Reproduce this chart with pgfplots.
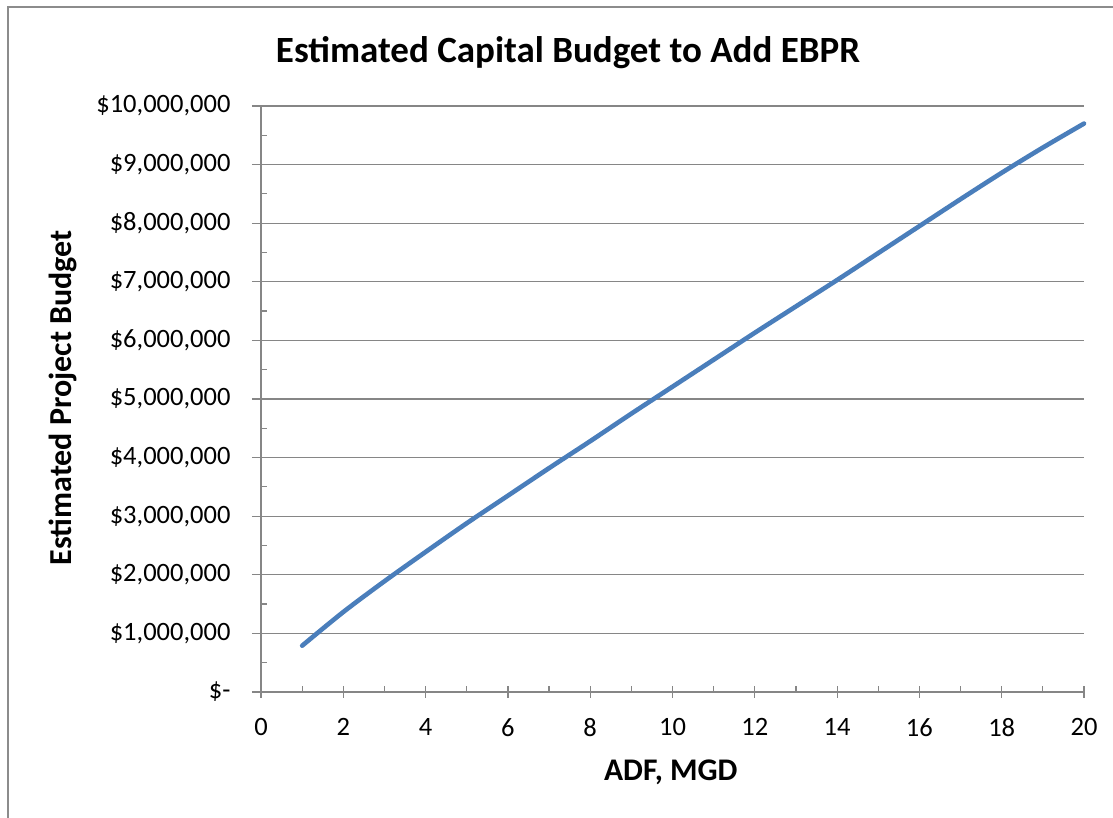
\documentclass[border=0pt]{standalone}
\usepackage{fontspec}
\setmainfont{Carlito}
\usepackage{pgfplots}
\pgfplotsset{compat=1.18}
\definecolor{axgray}{RGB}{134,134,134}
\definecolor{framegray}{RGB}{140,140,140}
\definecolor{excelblue}{RGB}{74,126,187}
\pgfplotstableread{
x y
1 790000
2 1365000
3 1890000
4 2390000
5 2880000
6 3350000
7 3820000
8 4280000
9 4750000
10 5210000
11 5670000
12 6130000
13 6580000
14 7030000
15 7490000
16 7950000
17 8410000
18 8860000
19 9290000
20 9700000
}\budget
\begin{document}
\begin{tikzpicture}[x=1pt,y=1pt]
\path[use as bounding box] (0,0) rectangle (1113,818);
\draw[color=framegray, line width=2.5pt] (8,-5) -- (8,811) -- (1120,811);
\begin{axis}[
  at={(261pt,126pt)}, anchor=south west, scale only axis,
  width=823pt, height=586pt,
  xmin=0, xmax=20, ymin=0, ymax=10000000,
  axis x line*=bottom, axis y line*=left,
  axis line style={axgray, line width=1.3pt},
  xtick={0,2,...,20},
  xticklabels={0,2,4,6,8,10,12,14,16,18,20},
  ytick={0,1000000,2000000,3000000,4000000,5000000,6000000,7000000,8000000,9000000,10000000},
  yticklabels={\$-,{\$1,000,000},{\$2,000,000},{\$3,000,000},{\$4,000,000},{\$5,000,000},{\$6,000,000},{\$7,000,000},{\$8,000,000},{\$9,000,000},{\$10,000,000}},
  scaled y ticks=false, scaled x ticks=false,
  minor x tick num=1, minor y tick num=1,
  tick align=center,
  major tick length=12pt, minor tick length=6pt,
  tick style={axgray, line width=1.2pt},
  minor x tick style={yshift=3pt},
  minor y tick style={xshift=3pt},
  major y tick style={xshift=-3pt},
  ymajorgrids,
  major grid style={axgray, line width=1.2pt},
  /pgf/number format/assume math mode=true,
  ticklabel style={font=\fontsize{26.5}{30}\selectfont, text=black},
  yticklabel style={anchor=east, xshift=-21pt},
  xticklabel style={anchor=north, yshift=-17pt},
  title={Estimated Capital Budget to Add EBPR},
  title style={font=\fontsize{37}{42}\selectfont\bfseries, at={(rel axis cs:0.373,1.080)}, anchor=center},
  xlabel={ADF, MGD},
  xlabel style={font=\fontsize{31.5}{36}\selectfont\bfseries, at={(rel axis cs:0.498,-0.1365)}, anchor=center},
  ylabel={Estimated Project Budget},
  ylabel style={font=\fontsize{32}{36}\selectfont\bfseries, at={(rel axis cs:-0.2406,0.502)}, anchor=center, rotate=0},
  clip=false,
]
\addplot[excelblue, line width=4.6pt, smooth, line cap=round] table[x=x, y=y] {\budget};
\end{axis}
\end{tikzpicture}
\end{document}
